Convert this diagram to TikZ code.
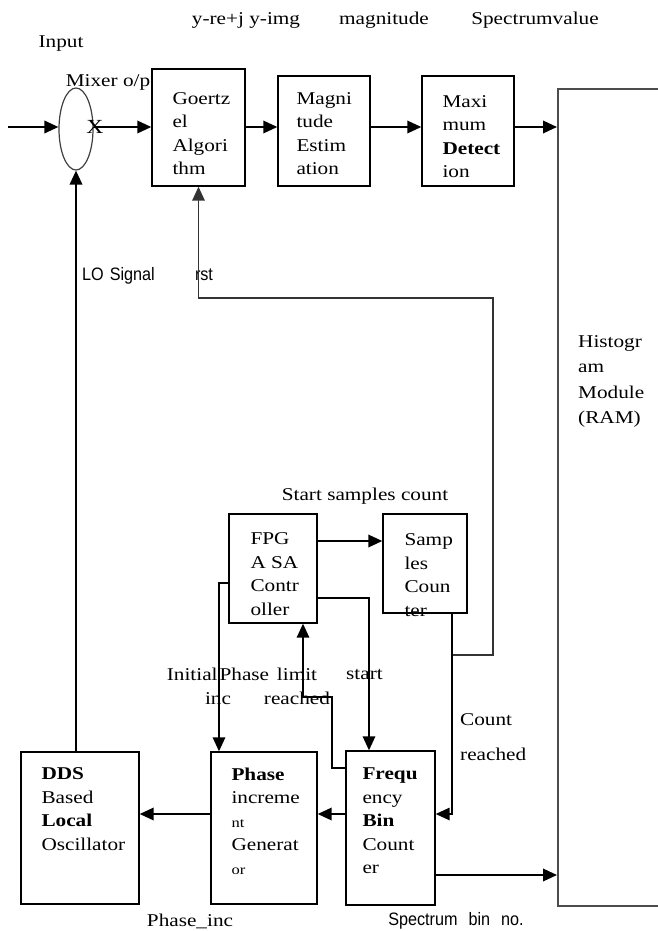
\documentclass[tikz,border=0pt]{standalone}
\usepackage{fontspec}
\setmainfont{Liberation Serif}[FakeStretch=1.18]
\newfontfamily\narrowfont{Liberation Sans}[FakeStretch=0.9]
\usepackage{tikz}
\usetikzlibrary{arrows.meta,calc,positioning,shapes.geometric}

\newcommand\boxfont{\fontsize{18}{23.5}\selectfont}
\newcommand\lblfont{\fontsize{18}{24}\selectfont}
\newcommand\sigfont{\narrowfont\fontsize{18}{24}\selectfont}
\newcommand\smalltxt{\fontsize{14}{23.5}\selectfont}

\begin{document}
\begin{tikzpicture}[x=1pt,y=-1pt,>={Triangle[length=14pt,width=12.5pt]},
  box/.style={draw,line width=1.4pt,inner sep=0pt},
  txt/.style={anchor=north west,inner sep=0pt,align=left,font=\boxfont,execute at begin node=\strut},
  lbl/.style={inner sep=0pt,font=\lblfont},
  sig/.style={inner sep=0pt,font=\sigfont},
  arr/.style={->,line width=1.9pt},
  wire/.style={->,line width=1.6pt,black!80}]
\useasboundingbox (0,0) rectangle (657,931);

% top row
\node[draw,ellipse,line width=1.2pt,black!75,minimum width=34,minimum height=82,inner sep=0pt] (mixer) at (76,129) {};
\node[box,minimum width=93,minimum height=117] (goertzel) at (198.5,127.5) {};
\node[box,minimum width=92,minimum height=110] (magnitude) at (324,131) {};
\node[box,minimum width=92,minimum height=110] (maximum) at (468,131) {};
\node[box,draw=black!70,line width=2pt,minimum width=162,minimum height=817] (histo) at (639,497.5) {};

\node[txt] (goertzel-t) at ([shift={(21,24)}]goertzel.north west) {Goertz\\el\\Algori\\thm};
\node[txt] (magnitude-t) at ([shift={(19,17)}]magnitude.north west) {Magni\\tude\\Estim\\ation};
\node[txt] (maximum-t) at ([shift={(21,20)}]maximum.north west) {Maxi\\mum\\\textbf{Detect}\\ion};
\node[txt,font=\fontsize{18}{25.5}\selectfont] (histo-t) at (578,335) {Histogr\\am\\Module\\(RAM)};

% controller and counters
\node[box,minimum width=88,minimum height=109] (ctrl) at (273,568.5) {};
\node[box,minimum width=84,minimum height=99] (samples) at (425,563.5) {};
\node[txt] (ctrl-t) at ([shift={(22,19.5)}]ctrl.north west) {FPG\\A SA\\Contr\\oller};
\node[txt] (samples-t) at ([shift={(22,20.5)}]samples.north west) {Samp\\les\\Coun\\ter};

% bottom row
\node[box,minimum width=118,minimum height=152] (dds) at (80,828) {};
\node[box,minimum width=106,minimum height=152] (phase) at (264,828) {};
\node[box,minimum width=89,minimum height=154] (freq) at (390.5,828) {};
\node[txt] (dds-t) at ([shift={(21,16.5)}]dds.north west) {\textbf{DDS}\\Based\\\textbf{Local}\\Oscillator};
\node[txt] (phase-t) at ([shift={(21,16.5)}]phase.north west) {\textbf{Phase}\\increme\\{\smalltxt nt}\\Generat\\{\smalltxt or}};
\node[txt] (freq-t) at ([shift={(17,17.5)}]freq.north west) {\textbf{Frequ}\\ency\\\textbf{Bin}\\Count\\er};

% labels
\node[lbl,anchor=base] (yreim-l) at (246,25) {y-re+j y-img};
\node[lbl,anchor=base] (mag-l) at (384,25) {magnitude};
\node[lbl,anchor=base] (spec-l) at (535,25) {Spectrumvalue};
\node[lbl,anchor=base] (input-l) at (61,48) {Input};
\node[lbl,anchor=base] (mixop-l) at (108,87) {Mixer o/p};
\node[lbl,font=\fontsize{20}{24}\selectfont] (mixx) at (95,127) {X};
\node[sig,anchor=base] (lo-l) at (118.5,280) {LO\hspace{6pt}Signal};
\node[sig,anchor=base] (rst-l) at (204,280) {rst};
\node[lbl,anchor=base] (ssc-l) at (365,500) {Start samples count};
\node[lbl,anchor=north,align=center,execute at begin node=\strut] (init-l) at (218,668) {Initial\hspace{2pt}Phase\\inc};
\node[lbl,anchor=north,align=center,execute at begin node=\strut] (limit-l) at (297,668) {limit\\reached};
\node[lbl,anchor=base] (start-l) at (364.5,679) {start};
\node[lbl,anchor=north west,align=left,execute at begin node=\strut] (count-l) at (460,713) {Count\\[11pt]reached};
\node[lbl,anchor=base] (pinc-l) at (190,926) {Phase\_inc};
\node[sig,anchor=base] (bin-l) at (456,925) {Spectrum\hspace{11pt}bin\hspace{11pt}no.};

% signal path
\coordinate (in) at (8,127);
\draw[arr] (in) -- (in -| mixer.west);
\draw[arr] (in -| mixer.east) -- (in -| goertzel.west);
\draw[arr] (in -| goertzel.east) -- (in -| magnitude.west);
\draw[arr] (in -| magnitude.east) -- (in -| maximum.west);
\draw[arr] (in -| maximum.east) -- (in -| histo.west);
\draw[arr] (mixer.south |- dds.north) -- (mixer.south);

% control lines
\coordinate (cnt) at (452,655);
\coordinate (rstturn) at (493,298);
\coordinate (lim) at (332,697);
\draw[wire] (cnt) -| (rstturn) -| (goertzel.south);
\draw[arr,line width=1.6pt] ([xshift=27]samples.south) |- ([yshift=14]freq.east);
\draw[arr] ([yshift=27.5]ctrl.east) coordinate (c1) -- (c1 -| samples.west);
\draw[arr,line width=1.6pt] ([yshift=-14.5]ctrl.west) -| ([xshift=-45]phase.north);
\draw[arr,line width=1.6pt] ([yshift=-29.5]ctrl.east) -| ([xshift=-21.5]freq.north);
\draw[arr,line width=1.6pt] ([yshift=60]freq.west) -| (lim) -| ([xshift=30]ctrl.south);
\draw[arr] ([yshift=14]freq.west) -- ([yshift=14]phase.east);
\draw[arr] ([yshift=14]phase.west) -- ([yshift=14]dds.east);
\draw[arr] ([yshift=-47]freq.east) coordinate (c2) -- (c2 -| histo.west);
\end{tikzpicture}
\end{document}
